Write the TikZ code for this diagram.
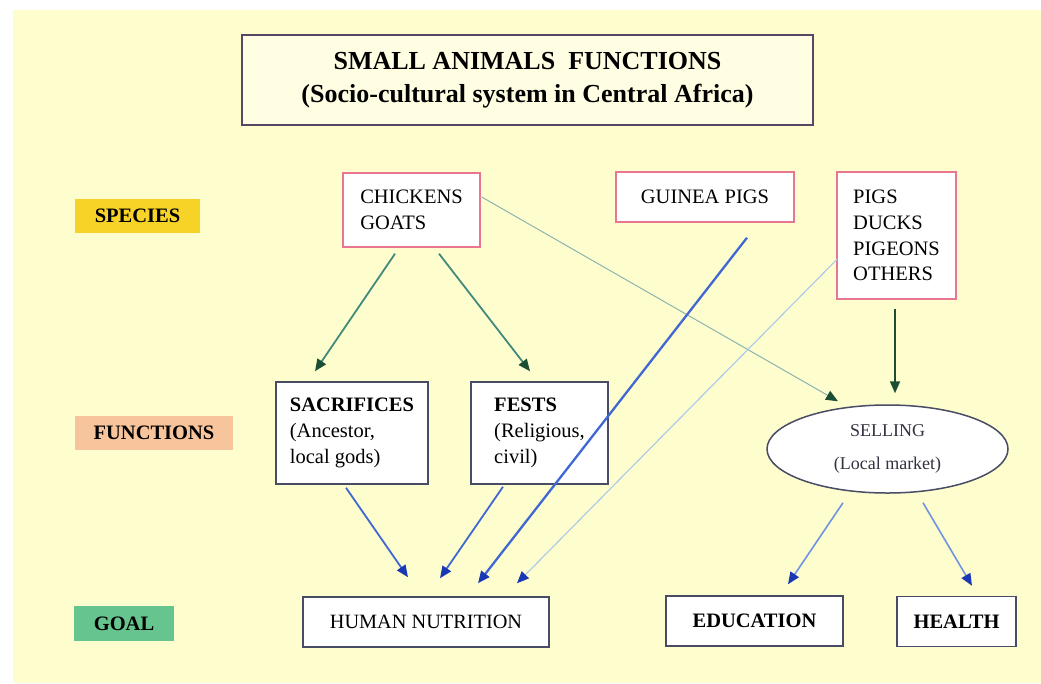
\documentclass[tikz,border=0pt]{standalone}
\usepackage{fontspec}
\setmainfont{Liberation Serif}
\usetikzlibrary{arrows.meta,shapes.geometric,calc}

\definecolor{cream}{RGB}{254,253,205}
\definecolor{titlefill}{RGB}{255,254,226}
\definecolor{titleline}{RGB}{88,70,100}
\definecolor{speciesbg}{RGB}{247,211,40}
\definecolor{functionsbg}{RGB}{248,196,156}
\definecolor{goalbg}{RGB}{102,196,142}
\definecolor{pinkline}{RGB}{232,118,144}
\definecolor{boxline}{RGB}{72,76,100}
\definecolor{tealline}{RGB}{66,138,124}
\definecolor{paleteal}{RGB}{140,182,176}
\definecolor{darkgreen}{RGB}{28,78,52}
\definecolor{blueline}{RGB}{64,104,212}
\definecolor{lightblue}{RGB}{110,148,226}
\definecolor{paleblue}{RGB}{170,200,238}
\definecolor{darkblue}{RGB}{26,56,180}
\definecolor{sellingtext}{RGB}{50,50,64}

\tikzset{
  titlebox/.style={draw=titleline, line width=1.8pt, fill=titlefill, align=center,
    minimum width=571pt, minimum height=90pt, inner sep=0pt,
    font=\fontsize{26}{33}\selectfont\bfseries},
  rowlabel/.style={inner sep=0pt, minimum height=34pt,
    font=\fontsize{20.5}{24}\selectfont\bfseries},
  speciesbox/.style={draw=pinkline, line width=1.4pt, fill=white, align=left,
    inner sep=0pt, font=\fontsize{20.5}{25.8}\selectfont},
  functionbox/.style={draw=boxline, line width=1.5pt, fill=white, align=left,
    inner sep=0pt, font=\fontsize{20.5}{26}\selectfont},
  goalbox/.style={draw=boxline, line width=1.5pt, fill=white, align=center,
    inner sep=0pt, minimum height=50pt},
  greenhead/.style={-{Triangle[length=12pt,width=10pt,color=darkgreen]}},
  bluehead/.style={-{Triangle[length=12pt,width=10pt,color=darkblue]}},
  tealarrow/.style={greenhead, draw=tealline, line width=1.8pt},
  paletealarrow/.style={greenhead, draw=paleteal, line width=1pt},
  greenarrow/.style={greenhead, draw=darkgreen, line width=1.8pt},
  bluearrow/.style={bluehead, draw=blueline, line width=1.8pt},
  thickbluearrow/.style={bluehead, draw=blueline, line width=2.3pt},
  lightbluearrow/.style={bluehead, draw=lightblue, line width=1.6pt},
  palebluearrow/.style={bluehead, draw=paleblue, line width=1.1pt},
}

\begin{document}
\begin{tikzpicture}[x=1pt,y=-1pt]
\useasboundingbox (0,0) rectangle (1041,683);
\fill[white] (0,0) rectangle (1041,683);
\fill[cream] (13,10) rectangle (1041,683);

% heading
\node[titlebox] (title) at (527.5,80)
  {SMALL ANIMALS\ \ FUNCTIONS\\(Socio-cultural system in Central Africa)};

% row labels
\node[rowlabel, fill=speciesbg, minimum width=125pt] (species) at (137.5,216) {SPECIES};
\node[rowlabel, fill=functionsbg, minimum width=158pt] (functions) at (154,432.5) {FUNCTIONS};
\node[rowlabel, fill=goalbg, minimum width=100pt, minimum height=35pt] (goal) at (124,623.5) {GOAL};

% species
\node[speciesbox, minimum width=137pt, minimum height=74pt] (chk) at (411.5,210)
  {CHICKENS\\GOATS};
\node[speciesbox, align=center, minimum width=178pt, minimum height=50pt] (gp) at (705,197)
  {GUINEA PIGS};
\node[speciesbox, minimum width=119pt, minimum height=127pt] (pig) at (896.5,235.5)
  {PIGS\\DUCKS\\PIGEONS\\OTHERS};

% functions
\node[functionbox, minimum width=152pt, minimum height=102pt] (sac) at (352,433)
  {\textbf{SACRIFICES}\\(Ancestor,\\local gods)};
\node[functionbox, minimum width=137pt, minimum height=102pt] (fes) at (539.5,433)
  {\textbf{FESTS}\\(Religious,\\civil)};
\node[ellipse, draw=boxline, line width=1.5pt, fill=white, inner sep=0pt,
  minimum width=241pt, minimum height=88pt, align=center, text=sellingtext,
  font=\fontsize{18}{33}\selectfont] (sel) at (887.5,449)
  {SELLING\\(Local market)};

% goals
\node[goalbox, minimum width=246pt, font=\fontsize{20.3}{24}\selectfont] (hn) at (426,622)
  {HUMAN NUTRITION};
\node[goalbox, minimum width=177pt, font=\fontsize{20.5}{24}\selectfont\bfseries] (edu) at (754.5,621)
  {EDUCATION};
\node[goalbox, minimum width=119pt, font=\fontsize{20.5}{24}\selectfont\bfseries] (hea) at (956.5,621.5)
  {HEALTH};

% connectors
\draw[tealarrow] ($(chk.south)+(-16.5,6)$) -- ($(sac.north)+(-37,-10)$);
\draw[tealarrow] ($(chk.south)+(27.5,6)$) -- ($(fes.north)+(-9.5,-10)$);
\draw[paletealarrow] ($(chk.east)+(1,-13)$) -- ($(sel.north)+(-49.5,-3)$);
\draw[greenarrow] ($(pig.south)+(-1.5,9)$) -- ($(sel.north)+(7.5,-11)$);
\draw[thickbluearrow] ($(gp.south)+(42,15)$) -- ($(hn.north)+(52,-13)$);
\draw[palebluearrow] ($(pig.west)+(1,23.5)$) -- ($(hn.north)+(91,-13)$);
\draw[bluearrow] ($(sac.south)+(-6,3)$) -- ($(hn.north)+(-18,-19)$);
\draw[bluearrow] ($(fes.south)+(-36.5,2)$) -- ($(hn.north)+(14,-18)$);
\draw[lightbluearrow] ($(sel.south)+(-44.5,9)$) -- ($(edu.north)+(33.5,-11)$);
\draw[lightbluearrow] ($(sel.south)+(35.5,9)$) -- ($(hea.north)+(15.5,-10)$);
\end{tikzpicture}
\end{document}
